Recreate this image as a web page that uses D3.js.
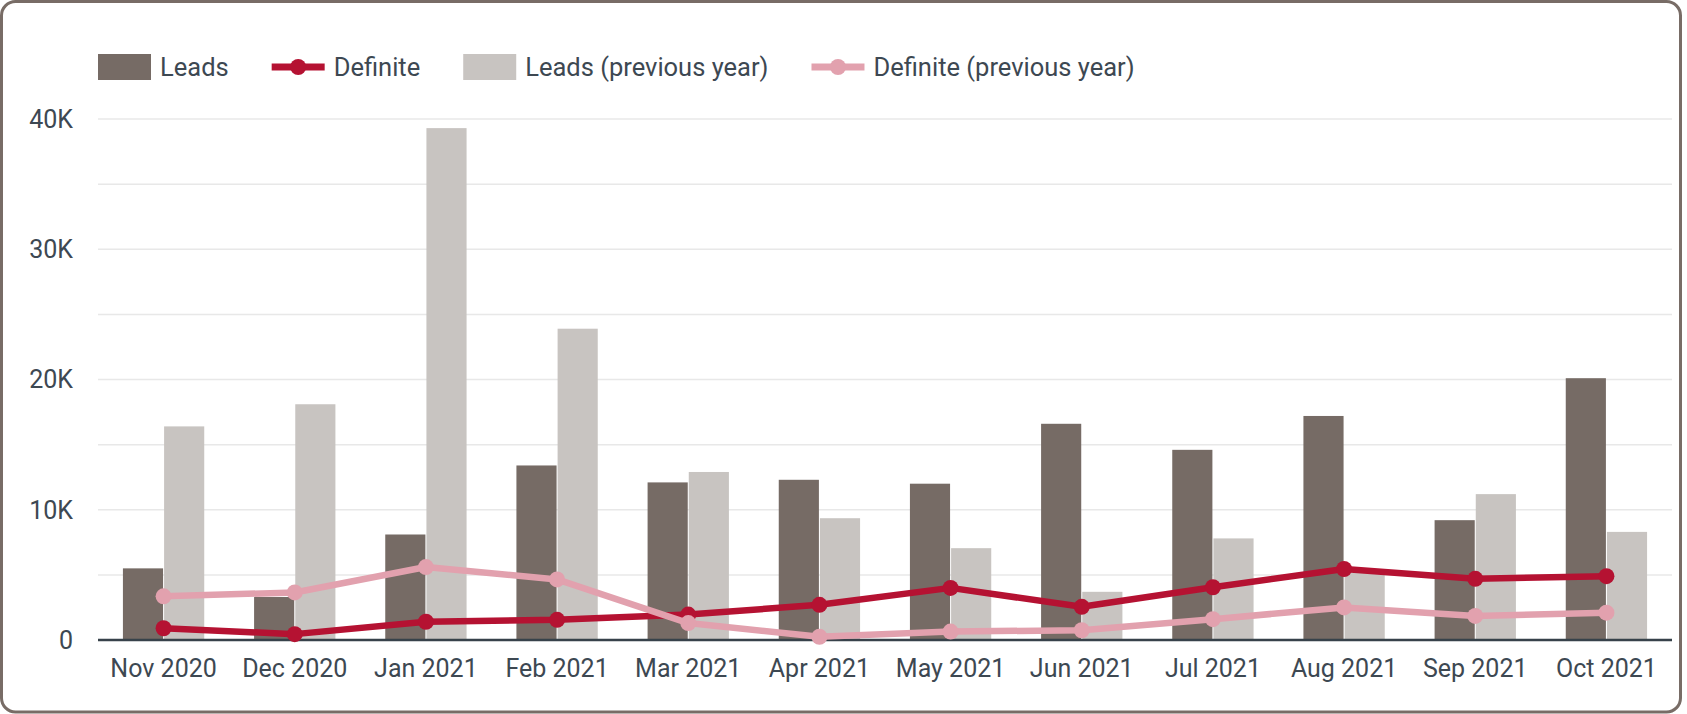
<!DOCTYPE html>
<html>
<head>
<meta charset="utf-8">
<script src="https://cdn.jsdelivr.net/npm/d3@7"></script>
<style>
  html, body { margin: 0; padding: 0; background: #fff; }
  svg { display: block; font-family: Roboto, "Noto Sans", sans-serif; }
</style>
</head>
<body>
<svg id="chart" width="1687" height="714"></svg>
<script>
const months = ["Nov 2020", "Dec 2020", "Jan 2021", "Feb 2021", "Mar 2021", "Apr 2021",
  "May 2021", "Jun 2021", "Jul 2021", "Aug 2021", "Sep 2021", "Oct 2021"];
const leads = [5500, 3300, 8100, 13400, 12100, 12300, 12000, 16600, 14600, 17200, 9200, 20100];
const definite = [900, 450, 1400, 1550, 1950, 2700, 4000, 2550, 4050, 5450, 4700, 4900];
const leadsPrev = [16400, 18100, 39300, 23900, 12900, 9350, 7050, 3700, 7800, 5200, 11200, 8300];
const definitePrev = [3350, 3650, 5600, 4650, 1300, 250, 650, 750, 1600, 2500, 1850, 2100];
const yTicks = [0, 10000, 20000, 30000, 40000];
const gridTicks = [0, 5000, 10000, 15000, 20000, 25000, 30000, 35000, 40000];

const colors = {
  leads: "#766b65",
  leadsPrev: "#c8c4c1",
  definite: "#b51232",
  definitePrev: "#e2a1ae"
};
const textColor = "#3d4852";

const svg = d3.select("#chart");
const width = 1687, height = 714;
const margin = { left: 98, right: 15, top: 119, bottom: 74 };

// card
svg.append("rect")
  .attr("x", 1.5).attr("y", 1.5)
  .attr("width", width - 8).attr("height", height - 3.5)
  .attr("rx", 14)
  .attr("fill", "#fff")
  .attr("stroke", "#786c66")
  .attr("stroke-width", 3);

const xScale = d3.scaleBand()
  .domain(months)
  .range([margin.left, width - margin.right])
  .paddingInner(0.38)
  .paddingOuter(0.19);

const subScale = d3.scaleBand()
  .domain(["leads", "leadsPrev"])
  .range([0, xScale.bandwidth()])
  .paddingInner(0.025);

const yScale = d3.scaleLinear()
  .domain([0, 40000])
  .range([height - margin.bottom, margin.top]);

// grid
svg.append("g")
  .selectAll("line")
  .data(gridTicks.slice(1))
  .join("line")
  .attr("x1", margin.left)
  .attr("x2", width - margin.right)
  .attr("y1", d => yScale(d))
  .attr("y2", d => yScale(d))
  .attr("stroke", "#e8e8e8")
  .attr("stroke-width", 1.5);

// y labels
svg.append("g")
  .selectAll("text")
  .data(yTicks)
  .join("text")
  .attr("x", 73)
  .attr("y", d => yScale(d))
  .attr("dy", "0.35em")
  .attr("text-anchor", "end")
  .attr("fill", textColor)
  .attr("font-size", 25)
  .text(d => d === 0 ? "0" : d / 1000 + "K");

// bars
const barSeries = [
  { key: "leads", values: leads },
  { key: "leadsPrev", values: leadsPrev }
];
svg.append("g")
  .selectAll(".layer")
  .data(barSeries)
  .join("g")
  .attr("class", "layer")
  .attr("fill", s => colors[s.key])
  .selectAll("rect")
  .data(s => s.values.map((v, i) => ({ key: s.key, month: months[i], value: v })))
  .join("rect")
  .attr("x", d => xScale(d.month) + subScale(d.key))
  .attr("width", subScale.bandwidth())
  .attr("y", d => yScale(d.value))
  .attr("height", d => yScale(0) - yScale(d.value));

// baseline
svg.append("line")
  .attr("x1", margin.left)
  .attr("x2", width - margin.right)
  .attr("y1", yScale(0))
  .attr("y2", yScale(0))
  .attr("stroke", "#37424a")
  .attr("stroke-width", 2.5);

// lines
const lineSeries = [
  { key: "definite", values: definite },
  { key: "definitePrev", values: definitePrev }
];
const line = d3.line()
  .x((d, i) => xScale(months[i]) + xScale.bandwidth() / 2)
  .y(d => yScale(d));

const lineGroups = svg.append("g")
  .selectAll("g")
  .data(lineSeries)
  .join("g");

lineGroups.append("path")
  .attr("d", s => line(s.values))
  .attr("fill", "none")
  .attr("stroke", s => colors[s.key])
  .attr("stroke-width", 6.5)
  .attr("stroke-linejoin", "round");

lineGroups.selectAll("circle")
  .data(s => s.values.map(v => ({ key: s.key, value: v })))
  .join("circle")
  .attr("cx", (d, i) => xScale(months[i]) + xScale.bandwidth() / 2)
  .attr("cy", d => yScale(d.value))
  .attr("r", 8)
  .attr("fill", d => colors[d.key]);

// x labels
svg.append("g")
  .selectAll("text")
  .data(months)
  .join("text")
  .attr("x", d => xScale(d) + xScale.bandwidth() / 2)
  .attr("y", 668)
  .attr("dy", "0.35em")
  .attr("text-anchor", "middle")
  .attr("fill", textColor)
  .attr("font-size", 25)
  .text(d => d);

// legend
const legendItems = [
  { label: "Leads", key: "leads", type: "bar" },
  { label: "Definite", key: "definite", type: "line" },
  { label: "Leads (previous year)", key: "leadsPrev", type: "bar" },
  { label: "Definite (previous year)", key: "definitePrev", type: "line" }
];
const legend = svg.append("g");
let lx = margin.left;
const ly = 67;
legendItems.forEach(item => {
  const g = legend.append("g").attr("transform", `translate(${lx},${ly})`);
  if (item.type === "bar") {
    g.append("rect")
      .attr("x", 0).attr("y", -13)
      .attr("width", 53).attr("height", 26)
      .attr("fill", colors[item.key]);
  } else {
    g.append("line")
      .attr("x1", 0).attr("x2", 53)
      .attr("stroke", colors[item.key])
      .attr("stroke-width", 7);
    g.append("circle")
      .attr("cx", 26.5).attr("r", 8)
      .attr("fill", colors[item.key]);
  }
  const t = g.append("text")
    .attr("x", 62)
    .attr("dy", "0.35em")
    .attr("fill", textColor)
    .attr("font-size", 25.5)
    .text(item.label);
  lx += 62 + t.node().getComputedTextLength() + 43;
});
</script>
</body>
</html>
